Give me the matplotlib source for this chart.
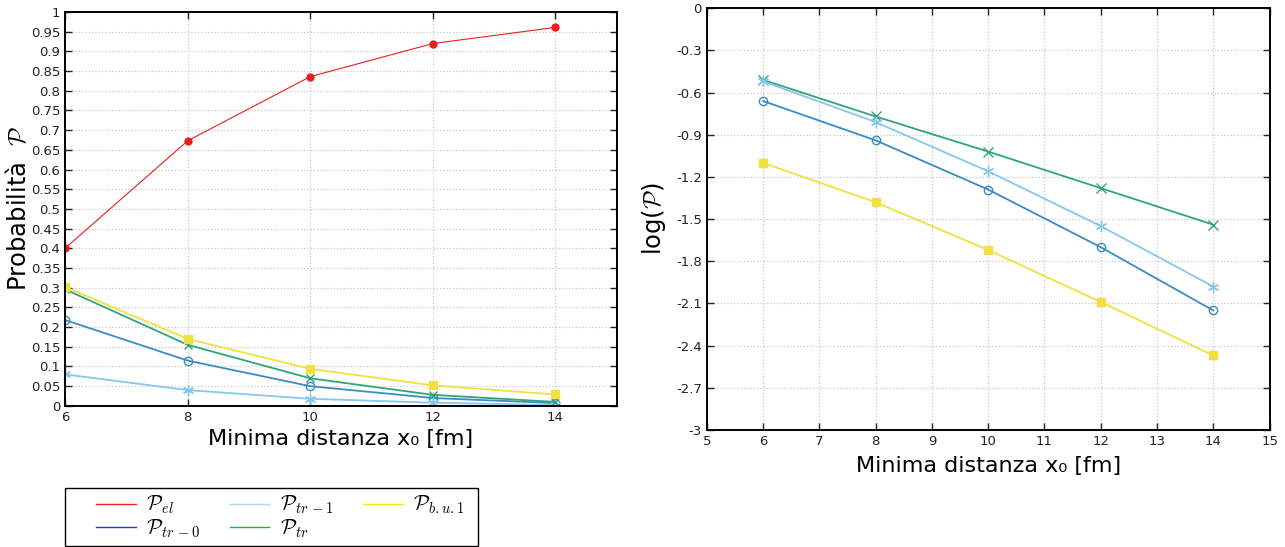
import matplotlib
matplotlib.use("Agg")
import matplotlib.pyplot as plt
from matplotlib.patches import Rectangle
from matplotlib.ticker import MultipleLocator

plt.rcParams['mathtext.fontset'] = 'cm'
plt.rcParams['font.family'] = 'DejaVu Sans'

# distanze minime [fm]
x0 = [6, 8, 10, 12, 14]

# probabilita' (pannello sinistro)
p_el = [0.400, 0.673, 0.836, 0.920, 0.961]
p_tr0 = [0.218, 0.115, 0.050, 0.020, 0.007]
p_tr1 = [0.080, 0.040, 0.018, 0.008, 0.002]
p_tr = [0.296, 0.155, 0.070, 0.028, 0.010]
p_bu1 = [0.302, 0.170, 0.094, 0.052, 0.029]

# log(P) (pannello destro)
log_tr = [-0.51, -0.77, -1.02, -1.28, -1.54]
log_tr1 = [-0.52, -0.81, -1.16, -1.55, -1.98]
log_tr0 = [-0.66, -0.94, -1.29, -1.70, -2.15]
log_bu1 = [-1.10, -1.38, -1.72, -2.09, -2.47]

c_el = '#e8201c'
c_tr0 = '#3a8cc4'
c_tr1 = '#86c8ec'
c_tr = '#2fa57c'
c_bu1 = '#f0e040'

asterisk = (6, 2, 0)

fig = plt.figure(figsize=(12.85, 5.47), dpi=100)
ax1 = fig.add_axes([0.0506, 0.258, 0.4294, 0.720])
ax2 = fig.add_axes([0.550, 0.214, 0.438, 0.771])


def style(ax):
    ax.grid(True, linestyle=':', color='#c8c8c8', linewidth=0.9)
    ax.tick_params(direction='in', top=True, right=True, labelsize=9.5,
                   length=5, width=1, colors='#222222')
    for s in ax.spines.values():
        s.set_linewidth(1.4)
    ax.set_axisbelow(True)


ax1.plot(x0, p_el, color=c_el, lw=0.8, marker='o', ms=5)
ax1.plot(x0, p_tr0, color=c_tr0, lw=1.3, marker='o', ms=6, mfc='none', mew=1)
ax1.plot(x0, p_tr1, color=c_tr1, lw=1.3, marker=asterisk, ms=8, mew=1)
ax1.plot(x0, p_tr, color=c_tr, lw=1.3, marker='x', ms=6, mew=1)
ax1.plot(x0, p_bu1, color=c_bu1, lw=1.3, marker='s', ms=6)
ax1.set_xlim(6, 15)
ax1.set_ylim(0, 1)
ax1.set_xticks([6, 8, 10, 12, 14])
ax1.yaxis.set_major_locator(MultipleLocator(0.05))
ax1.set_yticklabels(['%g' % round(v, 2) for v in ax1.get_yticks()])
ax1.set_xlabel('Minima distanza x₀ [fm]', fontsize=16, labelpad=4)
ax1.set_ylabel(r'Probabilità  $\mathcal{P}$', fontsize=17.5, labelpad=0)
style(ax1)

ax2.plot(x0, log_tr, color=c_tr, lw=1.3, marker='x', ms=7, mew=1)
ax2.plot(x0, log_tr1, color=c_tr1, lw=1.3, marker=asterisk, ms=8, mew=1)
ax2.plot(x0, log_tr0, color=c_tr0, lw=1.3, marker='o', ms=6, mfc='none', mew=1)
ax2.plot(x0, log_bu1, color=c_bu1, lw=1.3, marker='s', ms=6)
ax2.set_xlim(5, 15)
ax2.set_ylim(-3, 0)
ax2.xaxis.set_major_locator(MultipleLocator(1))
ax2.yaxis.set_major_locator(MultipleLocator(0.3))
ax2.set_yticklabels(['%g' % round(v, 1) for v in ax2.get_yticks()])
ax2.set_xlabel('Minima distanza x₀ [fm]', fontsize=16, labelpad=6)
ax2.set_ylabel(r'log($\mathcal{P}$)', fontsize=17.5, labelpad=6)
style(ax2)

# legenda separata sotto il pannello sinistro
legend_labels = [r'$\mathcal{P}_{el}$', r'$\mathcal{P}_{tr\,-0}$',
                 r'$\mathcal{P}_{tr\,-1}$', r'$\mathcal{P}_{tr}$',
                 r'$\mathcal{P}_{b.u.1}$']
legend_colors = ['#ff2020', '#2040c0', '#a8d8ec', '#20b040', '#f0f000']
handles = [plt.Line2D([], [], color=c, lw=1) for c in legend_colors]
fig.patches.append(Rectangle((0.0506, 0.002), 0.3214, 0.106,
                             transform=fig.transFigure, fill=False,
                             edgecolor='black', linewidth=1.0))
leg = fig.legend(handles, legend_labels, ncol=3, loc='center',
                 bbox_to_anchor=(0.218, 0.055), frameon=False,
                 fontsize=15, handlelength=1.9, labelspacing=0.05,
                 columnspacing=1.4, handletextpad=0.5, borderpad=0)

fig.savefig('out.png', dpi=100)
